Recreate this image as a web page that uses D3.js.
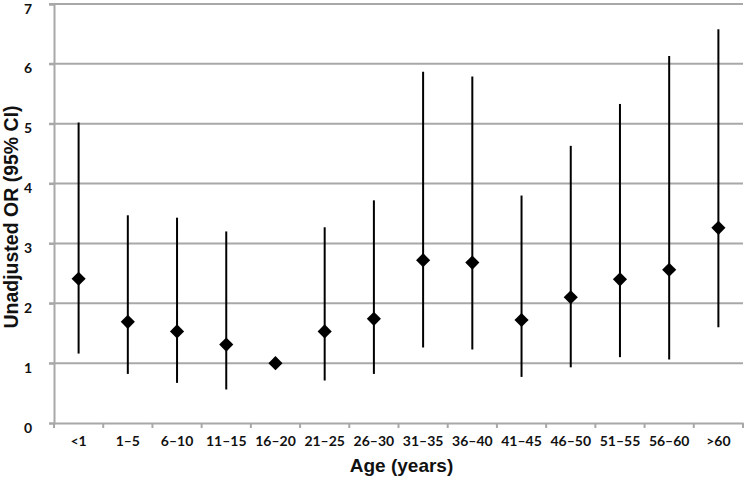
<!DOCTYPE html>
<html>
<head>
<meta charset="utf-8">
<script src="https://cdn.jsdelivr.net/npm/d3@7"></script>
<style>
  body { margin: 0; background: #fff; }
  svg { display: block; }
</style>
</head>
<body>
<svg width="747" height="477"></svg>
<script>
// age groups and odds ratios
const ages = ["<1", "1–5", "6–10", "11–15", "16–20", "21–25", "26–30", "31–35", "36–40", "41–45", "46–50", "51–55", "56–60", ">60"];
const orValues = [2.41, 1.69, 1.53, 1.31, 1.0, 1.53, 1.74, 2.72, 2.68, 1.72, 2.1, 2.4, 2.56, 3.26];
const ciLow = [1.16, 0.82, 0.67, 0.56, 1.0, 0.71, 0.82, 1.26, 1.23, 0.77, 0.93, 1.1, 1.06, 1.6];
const ciHigh = [5.02, 3.47, 3.43, 3.2, 1.0, 3.27, 3.72, 5.87, 5.79, 3.8, 4.63, 5.33, 6.13, 6.58];
const yTicks = [0, 1, 2, 3, 4, 5, 6, 7];

const data = ages.map((a, i) => ({age: a, or: orValues[i], lo: ciLow[i], hi: ciHigh[i]}));

const svg = d3.select("svg");
const mLeft = 54, mRight = 743, mTop = 4, mBottom = 423;

const x = d3.scaleBand().domain(ages).range([mLeft, mRight]);
const y = d3.scaleLinear().domain([0, 7]).range([mBottom, mTop]);

const grey = "#a8a8a8";

// horizontal gridlines
svg.append("g")
  .selectAll("line")
  .data(yTicks.filter(d => d > 0))
  .join("line")
  .attr("x1", mLeft - 5)
  .attr("x2", mRight)
  .attr("y1", d => y(d))
  .attr("y2", d => y(d))
  .attr("stroke", grey)
  .attr("stroke-width", 2);

// y axis
const yAxis = svg.append("g")
  .attr("transform", `translate(${mLeft},0)`)
  .call(d3.axisLeft(y).tickValues(yTicks).tickSize(5).tickPadding(17).tickFormat(d3.format("d")));
yAxis.select(".domain").attr("stroke", grey).attr("stroke-width", 2);
yAxis.selectAll(".tick line").attr("stroke", grey).attr("stroke-width", 2);
yAxis.selectAll("text")
  .attr("dy", "0.65em")
  .attr("font-family", "Lato, 'Open Sans', sans-serif")
  .attr("font-weight", "bold")
  .attr("font-size", 14)
  .attr("fill", "#111");

// x axis
const xAxis = svg.append("g")
  .attr("transform", `translate(0,${mBottom})`)
  .call(d3.axisBottom(x).tickSize(0).tickPadding(13));
xAxis.select(".domain").attr("stroke", grey).attr("stroke-width", 2);
xAxis.selectAll("text")
  .attr("font-family", "Lato, 'Open Sans', sans-serif")
  .attr("font-weight", "bold")
  .attr("font-size", 14)
  .attr("fill", "#111");

// category separator ticks
svg.append("g")
  .selectAll("line")
  .data(ages)
  .join("line")
  .attr("x1", d => x(d))
  .attr("x2", d => x(d))
  .attr("y1", mBottom)
  .attr("y2", mBottom + 5)
  .attr("stroke", grey)
  .attr("stroke-width", 2);
svg.append("line")
  .attr("x1", mRight).attr("x2", mRight)
  .attr("y1", mBottom).attr("y2", mBottom + 5)
  .attr("stroke", grey).attr("stroke-width", 2);

const cx = d => x(d.age) + x.bandwidth() / 2;

// confidence intervals
svg.append("g")
  .selectAll("line")
  .data(data.filter(d => d.hi > d.lo))
  .join("line")
  .attr("x1", cx)
  .attr("x2", cx)
  .attr("y1", d => y(d.lo))
  .attr("y2", d => y(d.hi))
  .attr("stroke", "#000")
  .attr("stroke-width", 2);

// point estimates
svg.append("g")
  .selectAll("path")
  .data(data)
  .join("path")
  .attr("d", d3.symbol(d3.symbolSquare, 100))
  .attr("transform", d => `translate(${cx(d)},${y(d.or)}) rotate(45)`)
  .attr("fill", "#000");

// axis titles
svg.append("text")
  .attr("x", (mLeft + mRight) / 2 + 3)
  .attr("y", 472)
  .attr("text-anchor", "middle")
  .attr("font-family", "'Liberation Sans', Arial, sans-serif")
  .attr("font-weight", "bold")
  .attr("font-size", 19)
  .attr("fill", "#111")
  .text("Age (years)");

svg.append("text")
  .attr("transform", `translate(18,217) rotate(-90)`)
  .attr("text-anchor", "middle")
  .attr("font-family", "'Liberation Sans', Arial, sans-serif")
  .attr("font-weight", "bold")
  .attr("font-size", 19.5)
  .attr("fill", "#111")
  .text("Unadjusted OR (95% CI)");
</script>
</body>
</html>
